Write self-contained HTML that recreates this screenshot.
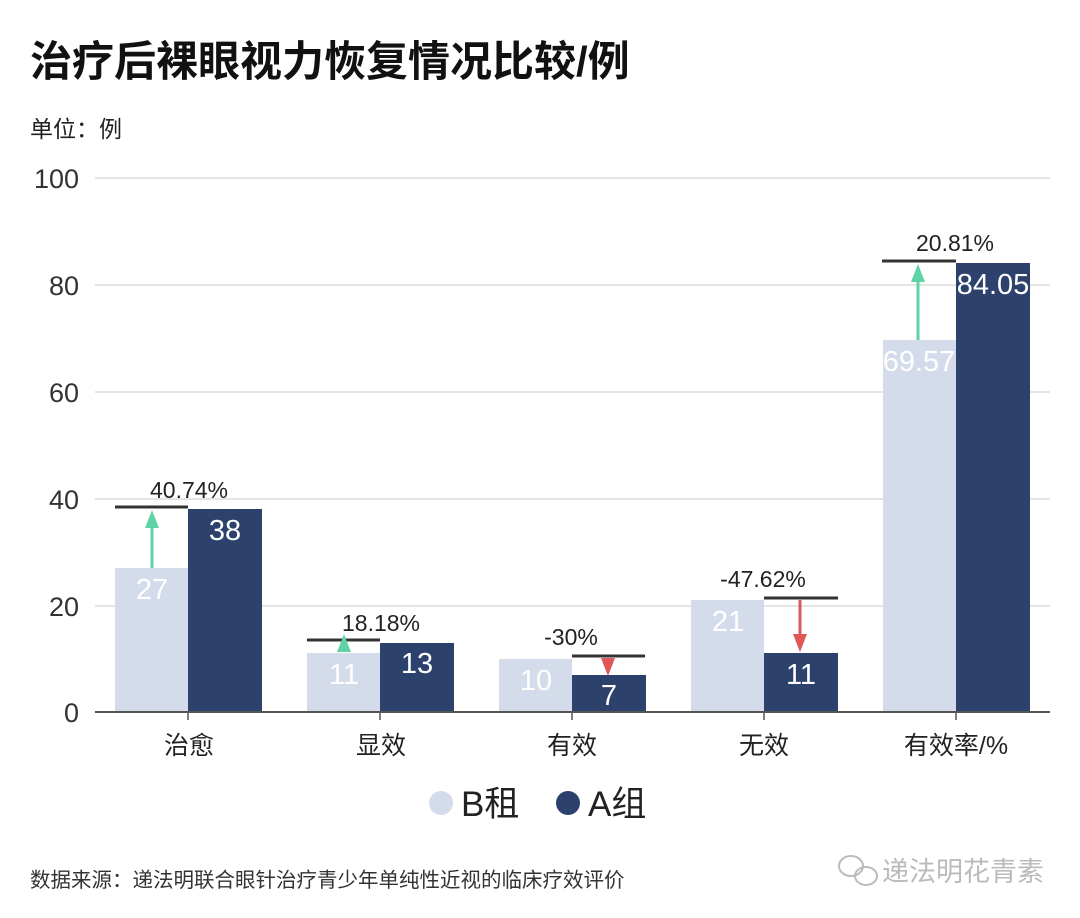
<!DOCTYPE html>
<html><head><meta charset="utf-8"><style>
body{margin:0;background:#fff;}
svg{display:block;font-family:"Liberation Sans","Noto Sans CJK SC",sans-serif;}
</style></head><body>
<svg width="1080" height="918" viewBox="0 0 1080 918">
<text x="30" y="76" font-size="42" font-weight="bold" fill="#111">治疗后裸眼视力恢复情况比较/例</text>
<text x="30" y="137" font-size="23" fill="#222">单位：例</text>
<g stroke="#dcdcdc" stroke-width="1.5">
<line x1="95" y1="178" x2="1050" y2="178"/><line x1="95" y1="285" x2="1050" y2="285"/>
<line x1="95" y1="392" x2="1050" y2="392"/><line x1="95" y1="499" x2="1050" y2="499"/>
<line x1="95" y1="606" x2="1050" y2="606"/>
</g>
<g font-size="27" fill="#333" text-anchor="end">
<text x="79" y="188">100</text><text x="79" y="295">80</text><text x="79" y="402">60</text>
<text x="79" y="509">40</text><text x="79" y="616">20</text><text x="79" y="722">0</text>
</g>
<g fill="#d4dbea">
<rect x="115" y="568" width="73" height="144"/>
<rect x="307" y="653" width="73" height="59"/>
<rect x="499" y="659" width="73" height="53"/>
<rect x="691" y="600" width="73" height="112"/>
<rect x="883" y="340" width="73" height="372"/>
</g>
<g fill="#2c416b">
<rect x="188" y="509" width="74" height="203"/>
<rect x="380" y="643" width="74" height="69"/>
<rect x="572" y="675" width="74" height="37"/>
<rect x="764" y="653" width="74" height="59"/>
<rect x="956" y="263" width="74" height="449"/>
</g>
<line x1="95" y1="712" x2="1050" y2="712" stroke="#555" stroke-width="2"/>
<g stroke="#555" stroke-width="1.5">
<line x1="188" y1="712" x2="188" y2="720"/><line x1="380" y1="712" x2="380" y2="720"/>
<line x1="572" y1="712" x2="572" y2="720"/><line x1="764" y1="712" x2="764" y2="720"/>
<line x1="956" y1="712" x2="956" y2="720"/>
</g>
<g stroke="#333" stroke-width="3">
<line x1="115" y1="507" x2="188" y2="507"/>
<line x1="307" y1="640" x2="380" y2="640"/>
<line x1="572" y1="656" x2="645" y2="656"/>
<line x1="764" y1="598" x2="838" y2="598"/>
<line x1="882" y1="261" x2="956" y2="261"/>
</g>
<g stroke="#5fd3a5" stroke-width="3" fill="#5fd3a5">
<line x1="152" y1="568" x2="152" y2="525"/><polygon points="145,528 159,528 152,510" stroke="none"/>
<polygon points="337,652 351,652 344,634" stroke="none"/>
<line x1="918" y1="340" x2="918" y2="280"/><polygon points="911,282 925,282 918,264" stroke="none"/>
</g>
<g stroke="#e0575a" stroke-width="3" fill="#e0575a">
<polygon points="601,658 615,658 608,676" stroke="none"/>
<line x1="800" y1="600" x2="800" y2="636"/><polygon points="793,634 807,634 800,652" stroke="none"/>
</g>
<g font-size="23" fill="#222" text-anchor="middle">
<text x="189" y="498">40.74%</text><text x="381" y="631">18.18%</text>
<text x="571" y="645">-30%</text><text x="763" y="587">-47.62%</text>
<text x="955" y="251">20.81%</text>
</g>
<g font-size="29" fill="#fff" text-anchor="middle">
<text x="152" y="599">27</text><text x="225" y="540">38</text>
<text x="344" y="684">11</text><text x="417" y="673">13</text>
<text x="536" y="690">10</text><text x="609" y="705">7</text>
<text x="728" y="631">21</text><text x="801" y="684">11</text>
<text x="919" y="371">69.57</text><text x="993" y="294">84.05</text>
</g>
<g font-size="25" fill="#222" text-anchor="middle">
<text x="189" y="754">治愈</text><text x="381" y="754">显效</text><text x="572" y="754">有效</text>
<text x="764" y="754">无效</text><text x="956" y="754">有效率/%</text>
</g>
<circle cx="441" cy="803" r="12" fill="#d4dbea"/>
<text x="461" y="816" font-size="35" fill="#222">B租</text>
<circle cx="568" cy="803" r="12" fill="#2c416b"/>
<text x="588" y="816" font-size="35" fill="#222">A组</text>
<text x="30" y="887" font-size="20.5" fill="#333">数据来源：递法明联合眼针治疗青少年单纯性近视的临床疗效评价</text>
<g fill="none" stroke="#bbb" stroke-width="2">
<ellipse cx="851" cy="866" rx="12" ry="10"/><ellipse cx="866" cy="876" rx="11" ry="9"/>
</g>
<text x="882" y="881" font-size="27" fill="#bbb">递法明花青素</text>
</svg>
</body></html>
